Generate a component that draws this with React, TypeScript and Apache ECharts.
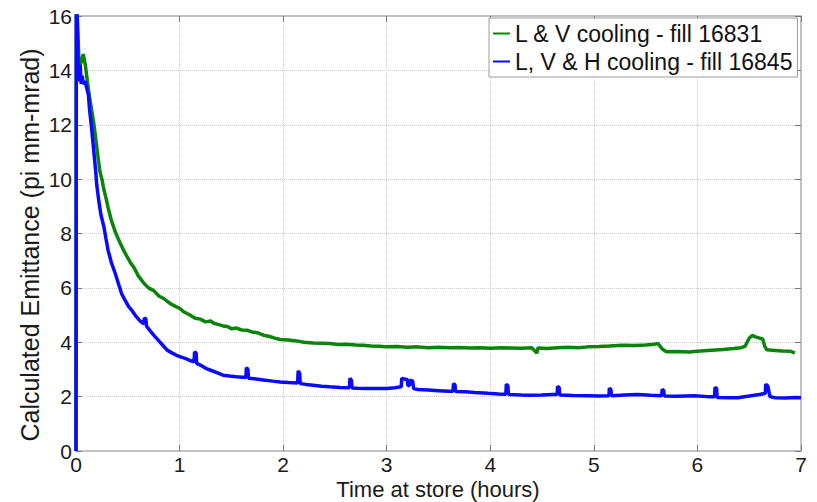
import React, { useEffect, useRef } from "react";
import * as echarts from "echarts";

const FONT = "'Liberation Sans', Arial, Helvetica, sans-serif";

const seriesNames = ["L & V cooling - fill 16831", "L, V & H cooling - fill 16845"];
const seriesColors = ["#0b840b", "#0a0aff"];

const xTicks = [0, 1, 2, 3, 4, 5, 6, 7];
const yTicks = [0, 2, 4, 6, 8, 10, 12, 14, 16];
const xTitle = "Time at store (hours)";
const yTitle = "Calculated Emittance (pi mm-mrad)";

// [time (hours), emittance (pi mm-mrad)]
const greenData: [number, number][] = [
  [0, 0], [0.004, 17], [0.03, 14.1], [0.05, 14.3], [0.07, 14.6], [0.09, 14.2], [0.12, 13.3],
  [0.14, 12.8], [0.17, 12.1], [0.19, 11.5], [0.21, 10.9], [0.23, 10.3], [0.25, 10.0], [0.27, 9.6],
  [0.29, 9.3], [0.31, 8.95], [0.34, 8.5], [0.38, 8.05], [0.42, 7.7], [0.46, 7.38], [0.5, 7.1],
  [0.53, 6.9], [0.56, 6.75], [0.6, 6.45], [0.62, 6.35], [0.66, 6.15], [0.7, 6.0], [0.75, 5.9],
  [0.8, 5.7], [0.85, 5.6], [0.91, 5.42], [0.96, 5.32], [1.0, 5.25], [1.04, 5.12], [1.1, 5.0],
  [1.15, 4.88], [1.2, 4.85], [1.25, 4.75], [1.3, 4.78], [1.33, 4.7], [1.38, 4.65], [1.42, 4.6],
  [1.46, 4.58], [1.5, 4.5], [1.55, 4.52], [1.6, 4.45], [1.65, 4.44], [1.7, 4.38], [1.75, 4.35],
  [1.81, 4.26], [1.86, 4.22], [1.92, 4.15], [1.97, 4.1], [2.05, 4.08], [2.13, 4.05], [2.2, 4.0],
  [2.29, 3.97], [2.37, 3.96], [2.45, 3.95], [2.53, 3.92], [2.61, 3.93], [2.7, 3.9], [2.77, 3.89],
  [2.85, 3.86], [2.93, 3.85], [3.0, 3.83], [3.1, 3.84], [3.2, 3.82], [3.3, 3.83], [3.4, 3.8],
  [3.5, 3.82], [3.6, 3.8], [3.7, 3.81], [3.8, 3.79], [3.9, 3.8], [4.0, 3.78], [4.1, 3.8],
  [4.2, 3.79], [4.3, 3.78], [4.4, 3.8], [4.45, 3.6], [4.46, 3.79], [4.55, 3.77], [4.65, 3.8],
  [4.75, 3.82], [4.85, 3.8], [4.94, 3.83], [5.05, 3.84], [5.15, 3.86], [5.27, 3.89], [5.4, 3.88],
  [5.5, 3.9], [5.58, 3.93], [5.62, 3.95], [5.66, 3.75], [5.7, 3.65], [5.8, 3.66], [5.92, 3.64],
  [6.0, 3.67], [6.1, 3.7], [6.25, 3.73], [6.35, 3.77], [6.42, 3.8], [6.46, 3.85], [6.5, 4.15],
  [6.53, 4.25], [6.56, 4.2], [6.6, 4.15], [6.63, 4.12], [6.65, 3.85], [6.67, 3.72], [6.75, 3.7],
  [6.82, 3.68], [6.9, 3.67], [6.94, 3.6],
];

const blueData: [number, number][] = [
  [0, 0], [0.003, 17], [0.015, 15.2], [0.02, 14.0], [0.03, 13.6], [0.04, 14.2], [0.05, 13.5],
  [0.06, 13.8], [0.07, 13.5], [0.09, 13.6], [0.1, 13.4], [0.12, 13.1], [0.13, 12.6], [0.15, 11.9],
  [0.17, 11.1], [0.19, 10.3], [0.2, 9.8], [0.22, 9.2], [0.24, 8.7], [0.27, 8.23], [0.29, 7.8],
  [0.31, 7.38], [0.34, 6.95], [0.38, 6.52], [0.41, 6.15], [0.44, 5.79], [0.48, 5.5], [0.51, 5.3],
  [0.54, 5.17], [0.58, 4.95], [0.62, 4.78], [0.655, 4.68], [0.66, 4.9], [0.675, 4.85], [0.68, 4.6],
  [0.72, 4.4], [0.75, 4.26], [0.8, 4.05], [0.84, 3.88], [0.88, 3.71], [0.93, 3.6], [0.97, 3.52],
  [1.01, 3.46], [1.06, 3.4], [1.1, 3.33], [1.14, 3.28], [1.145, 3.65], [1.16, 3.6], [1.165, 3.22],
  [1.2, 3.16], [1.26, 3.03], [1.3, 2.97], [1.36, 2.88], [1.42, 2.79], [1.48, 2.76], [1.55, 2.73],
  [1.64, 2.7], [1.645, 3.07], [1.66, 3.0], [1.665, 2.68], [1.72, 2.66], [1.81, 2.61], [1.9, 2.57],
  [1.97, 2.54], [2.05, 2.52], [2.14, 2.5], [2.145, 2.95], [2.16, 2.85], [2.165, 2.48], [2.22, 2.45],
  [2.29, 2.42], [2.37, 2.38], [2.45, 2.36], [2.55, 2.34], [2.64, 2.33], [2.645, 2.67], [2.66, 2.6],
  [2.665, 2.32], [2.72, 2.31], [2.8, 2.3], [2.9, 2.3], [3.0, 2.3], [3.08, 2.33], [3.14, 2.36],
  [3.145, 2.67], [3.18, 2.64], [3.2, 2.62], [3.205, 2.4], [3.22, 2.42], [3.225, 2.6], [3.25, 2.58],
  [3.26, 2.3], [3.3, 2.26], [3.4, 2.24], [3.5, 2.22], [3.6, 2.2], [3.64, 2.2], [3.645, 2.48],
  [3.66, 2.42], [3.665, 2.19], [3.76, 2.18], [3.85, 2.15], [3.98, 2.12], [4.08, 2.1], [4.15, 2.09],
  [4.155, 2.46], [4.17, 2.4], [4.175, 2.08], [4.3, 2.06], [4.38, 2.05], [4.5, 2.06], [4.6, 2.08],
  [4.645, 2.08], [4.65, 2.38], [4.665, 2.33], [4.67, 2.06], [4.8, 2.04], [4.94, 2.03], [5.05, 2.02],
  [5.145, 2.03], [5.15, 2.31], [5.165, 2.26], [5.17, 2.03], [5.3, 2.06], [5.42, 2.08], [5.55, 2.05],
  [5.655, 2.03], [5.66, 2.27], [5.675, 2.22], [5.68, 2.02], [5.8, 2.01], [5.97, 2.03], [6.1, 2.0],
  [6.165, 2.0], [6.17, 2.34], [6.185, 2.3], [6.19, 1.97], [6.3, 1.96], [6.39, 1.96], [6.5, 2.02],
  [6.6, 2.08], [6.655, 2.12], [6.66, 2.46], [6.68, 2.38], [6.7, 2.0], [6.75, 1.96], [6.85, 1.95],
  [6.95, 1.97], [7.0, 1.96],
];

export default function App() {
  const ref = useRef<HTMLDivElement>(null);

  useEffect(() => {
    document.body.style.margin = "0";
    if (!ref.current) return;
    const chart = echarts.init(ref.current, undefined, { renderer: "svg" });

    const frameLine = { show: true, onZero: false, lineStyle: { color: "#c2c2c2", width: 2 } };
    const tick = { show: true, inside: true, length: 6, lineStyle: { color: "#7a7a7a", width: 1 } };
    const split = { show: true, lineStyle: { color: "#cdcdcd", type: "dotted" as const, width: 1 } };
    const label = { fontSize: 21, color: "#1a1a1a", fontFamily: FONT };

    chart.setOption({
      animation: false,
      backgroundColor: "#ffffff",
      textStyle: { fontFamily: FONT },
      grid: { left: 76, right: 16, top: 16, bottom: 51, containLabel: false },
      xAxis: [
        {
          type: "value", min: xTicks[0], max: xTicks[xTicks.length - 1], interval: 1,
          position: "bottom", axisLine: frameLine, axisTick: tick, splitLine: split,
          axisLabel: { ...label, margin: 3, lineHeight: 21 },
        },
        {
          type: "value", min: xTicks[0], max: xTicks[xTicks.length - 1], interval: 1,
          position: "top", axisLine: frameLine, axisTick: tick, splitLine: { show: false },
          axisLabel: { show: false },
        },
      ],
      yAxis: [
        {
          type: "value", min: yTicks[0], max: yTicks[yTicks.length - 1], interval: 2,
          position: "left", axisLine: frameLine, axisTick: tick, splitLine: split,
          axisLabel: { ...label, margin: 4 },
        },
        {
          type: "value", min: yTicks[0], max: yTicks[yTicks.length - 1], interval: 2,
          position: "right", axisLine: frameLine, axisTick: tick, splitLine: { show: false },
          axisLabel: { show: false },
        },
      ],
      legend: {
        data: seriesNames,
        orient: "vertical",
        left: 489,
        top: 18,
        padding: [4, 5, 4, 4],
        itemGap: 5,
        itemWidth: 17,
        itemHeight: 2,
        icon: "rect",
        backgroundColor: "#ffffff",
        borderColor: "#9c9c9c",
        borderWidth: 1,
        borderRadius: 0,
        textStyle: { fontSize: 23, lineHeight: 23, color: "#111111", fontFamily: FONT },
      },
      graphic: [
        {
          type: "text",
          x: 438,
          y: 489,
          style: {
            text: xTitle, font: `22px ${FONT}`, fill: "#1a1a1a",
            textAlign: "center", textVerticalAlign: "middle",
          },
        },
        {
          type: "text",
          x: 30,
          y: 245,
          rotation: Math.PI / 2,
          style: {
            text: yTitle, font: `25px ${FONT}`, fill: "#1a1a1a",
            textAlign: "center", textVerticalAlign: "middle",
          },
        },
      ],
      series: [
        {
          name: seriesNames[0], type: "line", data: greenData, showSymbol: false,
          symbol: "none", clip: true, lineStyle: { color: seriesColors[0], width: 3.5 },
          itemStyle: { color: seriesColors[0] }, z: 3,
        },
        {
          name: seriesNames[1], type: "line", data: blueData, showSymbol: false,
          symbol: "none", clip: true, lineStyle: { color: seriesColors[1], width: 3.5 },
          itemStyle: { color: seriesColors[1] }, z: 4,
        },
      ],
    });

    return () => chart.dispose();
  }, []);

  return (
    <div
      ref={ref}
      style={{ position: "absolute", left: 0, top: 0, width: 817, height: 502 }}
    />
  );
}
